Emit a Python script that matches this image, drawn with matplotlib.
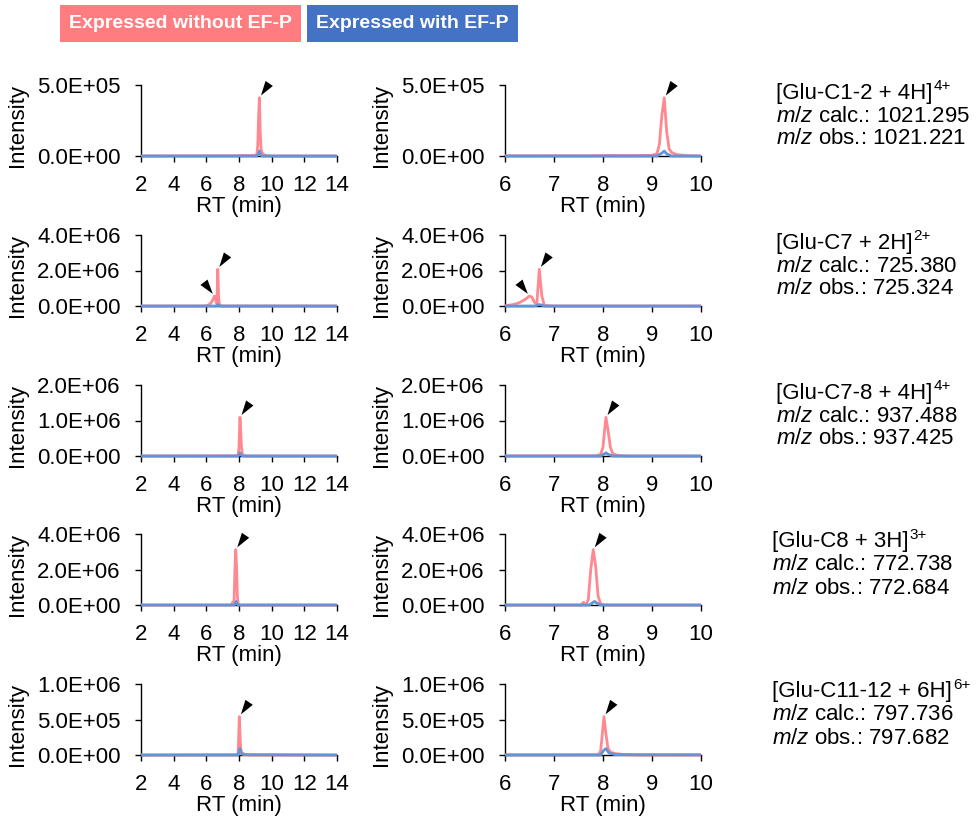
import matplotlib
matplotlib.use("Agg")
import matplotlib.pyplot as plt
from matplotlib.patches import Rectangle
from matplotlib.ticker import FuncFormatter

plt.rcParams['font.family'] = ['Liberation Sans', 'DejaVu Sans']
plt.rcParams['mathtext.fontset'] = 'custom'
plt.rcParams['mathtext.rm'] = 'Liberation Sans'
plt.rcParams['mathtext.it'] = 'Liberation Sans:italic'

# ---- extracted ion chromatograms (RT in min, intensity in counts) ----
ion_names = ["[Glu-C1-2 + 4H]", "[Glu-C7 + 2H]", "[Glu-C7-8 + 4H]",
             "[Glu-C8 + 3H]", "[Glu-C11-12 + 6H]"]
ion_charges = ["4+", "2+", "4+", "3+", "6+"]
mz_calc = ["1021.295", "725.380", "937.488", "772.738", "797.736"]
mz_obs = ["1021.221", "725.324", "937.425", "772.684", "797.682"]
y_max = [5.0e5, 4.0e6, 2.0e6, 4.0e6, 1.0e6]
y_step = [5.0e5, 2.0e6, 1.0e6, 2.0e6, 5.0e5]

# without EF-P
rt_without_1 = [2.0, 7.8, 8.2, 8.6, 9.0, 9.1, 9.15, 9.2, 9.25, 9.3, 9.35, 9.4, 9.5, 9.7, 10.0, 14.0]
int_without_1 = [0, 2e3, 4e3, 3e3, 5e3, 1.5e4, 8e4, 2.8e5, 4.1e5, 1.7e5, 5e4, 2.5e4, 1e4, 3e3, 0, 0]
rt_without_2 = [2.0, 5.8, 6.0, 6.1, 6.2, 6.3, 6.4, 6.5, 6.55, 6.6, 6.65, 6.7, 6.75, 6.8, 6.85, 6.9, 7.0, 14.0]
int_without_2 = [0, 0, 2e4, 5e4, 1e5, 2e5, 3.5e5, 5.6e5, 5e5, 2e5, 1.5e5, 2.07e6, 6e5, 5e4, 2e4, 1e4, 0, 0]
rt_without_3 = [2.0, 7.85, 7.95, 8.0, 8.03, 8.06, 8.1, 8.15, 8.2, 8.3, 8.5, 14.0]
int_without_3 = [0, 5e3, 4e4, 2.5e5, 7e5, 1.09e6, 7.5e5, 2.5e5, 6e4, 1.5e4, 0, 0]
rt_without_4 = [2.0, 7.55, 7.6, 7.65, 7.7, 7.75, 7.8, 7.85, 7.9, 7.95, 8.0, 8.1, 14.0]
int_without_4 = [0, 0, 1.5e5, 0, 3e5, 2e6, 3.12e6, 2.2e6, 5e5, 8e4, 2e4, 0, 0]
rt_without_5 = [2.0, 7.9, 7.95, 7.98, 8.02, 8.06, 8.1, 8.15, 8.25, 8.4, 8.7, 14.0]
int_without_5 = [0, 5e3, 5e4, 2.5e5, 5.4e5, 3e5, 1e5, 4e4, 2e4, 8e3, 0, 0]

# with EF-P
rt_with_1 = [2.0, 9.1, 9.2, 9.25, 9.3, 9.4, 14.0]
int_with_1 = [0, 0, 2e4, 3.5e4, 1.5e4, 0, 0]
rt_with_2 = [2.0, 6.6, 6.7, 6.75, 6.8, 14.0]
int_with_2 = [0, 0, 8e4, 5e4, 0, 0]
rt_with_3 = [2.0, 7.95, 8.03, 8.06, 8.1, 8.2, 14.0]
int_with_3 = [0, 0, 6e4, 9e4, 5e4, 0, 0]
rt_with_4 = [2.0, 7.72, 7.8, 7.83, 7.88, 7.95, 14.0]
int_with_4 = [0, 0, 1.5e5, 2e5, 1e5, 0, 0]
rt_with_5 = [2.0, 7.95, 8.02, 8.06, 8.12, 8.25, 14.0]
int_with_5 = [0, 0, 7e4, 9e4, 3e4, 5e3, 0]

# marked peaks: (RT, intensity, arrow comes from the right?)
peaks_1 = [(9.25, 4.1e5, True)]
peaks_2 = [(6.5, 5.6e5, False), (6.7, 2.07e6, True)]
peaks_3 = [(8.06, 1.09e6, True)]
peaks_4 = [(7.8, 3.12e6, True)]
peaks_5 = [(8.02, 5.4e5, True)]

without_rt = [rt_without_1, rt_without_2, rt_without_3, rt_without_4, rt_without_5]
without_int = [int_without_1, int_without_2, int_without_3, int_without_4, int_without_5]
with_rt = [rt_with_1, rt_with_2, rt_with_3, rt_with_4, rt_with_5]
with_int = [int_with_1, int_with_2, int_with_3, int_with_4, int_with_5]
peaks = [peaks_1, peaks_2, peaks_3, peaks_4, peaks_5]

PINK = '#FF7C84'
BLUE = '#6394D6'
W, H = 979, 818

fig = plt.figure(figsize=(W / 100, H / 100), dpi=100)
renderer = fig.canvas.get_renderer()

# condition labels
for x0, w, col, txt in [(60, 241, '#FF7C80', 'Expressed without EF-P'),
                        (307, 211, '#4472C4', 'Expressed with EF-P')]:
    fig.patches.append(Rectangle((x0 / W, 1 - 42 / H), w / W, 37 / H,
                                 transform=fig.transFigure, color=col, lw=0))
    fig.text((x0 + w / 2) / W, 1 - 23.5 / H, txt, color='white', fontsize=14,
             fontweight='bold', ha='center', va='center')

sci = FuncFormatter(lambda v, p: f"{v:.1E}")
row_tops = [85, 235, 385, 534, 684]
ax_h = 71
panels = [(141, 2, 14, 2), (505, 6, 10, 1)]

for i in range(5):
    top = row_tops[i]
    for left, x0, x1, step in panels:
        ax = fig.add_axes([left / W, 1 - (top + ax_h) / H, 196 / W, ax_h / H])
        # clip in x only, so the baseline is not cut in half
        clip = Rectangle((0, -0.3), 1, 1.6, transform=ax.transAxes,
                         fill=False, lw=0)
        l1, = ax.plot(without_rt[i], without_int[i], color=PINK, lw=2.0,
                      alpha=0.9, zorder=3)
        l2, = ax.plot(with_rt[i], with_int[i], color=BLUE, lw=2.0, zorder=4)
        l1.set_clip_path(clip)
        l2.set_clip_path(clip)
        ax.set_xlim(x0, x1)
        ax.set_ylim(0, y_max[i])
        ax.set_xticks(range(x0, x1 + 1, step))
        ax.set_yticks([k * y_step[i] for k in range(int(round(y_max[i] / y_step[i])) + 1)])
        ax.yaxis.set_major_formatter(sci)
        for s in ('top', 'right'):
            ax.spines[s].set_visible(False)
        for s in ('left', 'bottom'):
            ax.spines[s].set_linewidth(1.0)
        ax.tick_params(axis='both', direction='out', length=4.5, width=1.0,
                       labelsize=16, color='black')
        ax.tick_params(axis='y', pad=10)
        ax.tick_params(axis='x', pad=9)
        ax.set_xlabel('RT (min)', fontsize=16, labelpad=0)
        fig.text((left - 123) / W, 1 - (top + ax_h / 2 + 5) / H, 'Intensity',
                 rotation=90, fontsize=16, ha='center', va='center')
        for rt, h, from_right in peaks[i]:
            off = (6.5, 9.5) if from_right else (-6.5, 8.5)
            ax.annotate('', xy=(rt, h), xytext=off, textcoords='offset points',
                        annotation_clip=False,
                        arrowprops=dict(arrowstyle='-|>,head_length=1.05,head_width=0.32',
                                        mutation_scale=10, color='black', lw=0,
                                        shrinkA=0, shrinkB=2))

    xt = 776 if i < 3 else 772
    t = fig.text(xt / W, 1 - (top + 8) / H, ion_names[i], fontsize=16,
                 ha='left', va='center')
    bb = t.get_window_extent(renderer)
    fig.text((bb.x1 + 1) / W, 1 - (top + 1) / H, ion_charges[i], fontsize=11,
             ha='left', va='center')
    fig.text(xt / W, 1 - (top + 31) / H, r"$\mathit{m/z}$ calc.: " + mz_calc[i],
             fontsize=16, ha='left', va='center')
    fig.text(xt / W, 1 - (top + 54) / H, r"$\mathit{m/z}$ obs.: " + mz_obs[i],
             fontsize=16, ha='left', va='center')

fig.savefig('out.png', dpi=100)
